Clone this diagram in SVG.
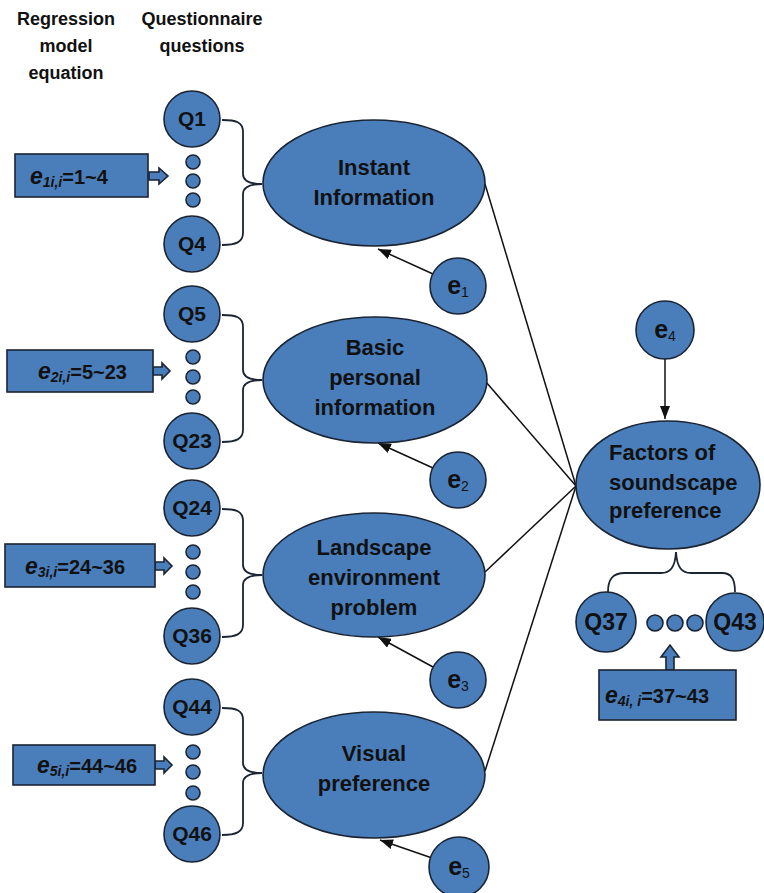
<svg xmlns="http://www.w3.org/2000/svg" width="764" height="893" viewBox="0 0 764 893">
  <defs>
    <marker id="head" markerUnits="userSpaceOnUse" markerWidth="13" markerHeight="10" refX="13" refY="5" orient="auto">
      <path d="M0,0 L13,5 L0,10 z" fill="#111"/>
    </marker>
    <style>
      text { font-family: "Liberation Sans", Arial, sans-serif; font-weight: bold; fill: #111; }
      .hdr { font-size: 18px; text-anchor: middle; }
      .node { fill: #4a7ebb; stroke: #1b2433; stroke-width: 1.6; }
      .lbl { font-size: 22px; text-anchor: middle; }
      .lbll { font-size: 22px; text-anchor: start; }
      .q { font-size: 21px; text-anchor: middle; }
      .qb { font-size: 23px; text-anchor: middle; }
      .el { font-size: 25px; text-anchor: middle; }
      .sub { font-size: 14px; font-weight: normal; }
      .eq { font-size: 20px; }
      .ei { font-size: 23px; font-style: italic; }
      .es { font-size: 14px; font-style: italic; }
      .wire { fill: none; stroke: #111; stroke-width: 1.5; }
      .brace { fill: none; stroke: #1b2433; stroke-width: 1.8; }
    </style>
  </defs>

  <rect width="764" height="893" fill="#ffffff"/>

  <!-- column headings -->
  <g id="headings">
    <text class="hdr" x="66" y="25">Regression</text>
    <text class="hdr" x="66" y="52">model</text>
    <text class="hdr" x="66" y="79">equation</text>
    <text class="hdr" x="202" y="25">Questionnaire</text>
    <text class="hdr" x="202" y="52">questions</text>
  </g>

  <!-- connectors -->
  <g id="connectors">
    <!-- braces joining question items to their factor -->
    <path class="brace" d="M222 120 C236 120 243 122 243 132 L243 174 C243 181 250 184 262 184 C250 184 243 187 243 194 L243 233 C243 242 236 245 222 245"/>
    <path class="brace" d="M222 315 C236 315 243 317 243 327 L243 370 C243 377 250 380 262 380 C250 380 243 383 243 390 L243 430 C243 439 236 442 222 442"/>
    <path class="brace" d="M222 509 C236 509 243 511 243 521 L243 565 C243 572 250 575 262 575 C250 575 243 578 243 585 L243 625 C243 634 236 637 222 637"/>
    <path class="brace" d="M222 708 C236 708 243 710 243 720 L243 763 C243 770 250 773 262 773 C250 773 243 776 243 783 L243 823 C243 832 236 835 222 835"/>
    <path class="brace" d="M608 592 C608 580 612 573 625 573 L661 573 C670 573 675 568 676 552 C677 568 682 573 691 573 L722 573 C732 573 735 580 735 592"/>

    <!-- factor paths to soundscape preference -->
    <line class="wire" x1="485" y1="184" x2="576" y2="486"/>
    <line class="wire" x1="486" y1="382" x2="576" y2="486"/>
    <line class="wire" x1="485" y1="572" x2="576" y2="486"/>
    <line class="wire" x1="485" y1="771" x2="576" y2="486"/>

    <!-- residual arrows -->
    <line class="wire" x1="433" y1="274" x2="378" y2="249" marker-end="url(#head)"/>
    <line class="wire" x1="433" y1="468" x2="378" y2="443" marker-end="url(#head)"/>
    <line class="wire" x1="433" y1="667" x2="378" y2="637" marker-end="url(#head)"/>
    <line class="wire" x1="432" y1="858" x2="380" y2="840" marker-end="url(#head)"/>
    <line class="wire" x1="665" y1="358" x2="665" y2="419" marker-end="url(#head)"/>

    <!-- block arrows from equation boxes -->
    <polygon class="node" points="149,172 159,172 159,168 168,176 159,184 159,180 149,180"/>
    <polygon class="node" points="153,367 162,367 162,363 170,371 162,379 162,375 153,375"/>
    <polygon class="node" points="155,562 164,562 164,558 172,566 164,574 164,570 155,570"/>
    <polygon class="node" points="155,761 164,761 164,757 172,765 164,773 164,769 155,769"/>
    <polygon class="node" points="666,670 666,657 661,657 670,645 679,657 674,657 674,670"/>
  </g>

  <!-- equation boxes -->
  <g id="eq1">
    <rect class="node" x="15" y="154" width="133" height="43"/>
    <text x="30" y="184"><tspan class="ei">e</tspan><tspan class="es" dy="3">1i,i</tspan><tspan class="eq" dy="-3">=1~4</tspan></text>
  </g>
  <g id="eq2">
    <rect class="node" x="7" y="350" width="146" height="42"/>
    <text x="38" y="379"><tspan class="ei">e</tspan><tspan class="es" dy="3">2i,i</tspan><tspan class="eq" dy="-3">=5~23</tspan></text>
  </g>
  <g id="eq3">
    <rect class="node" x="5" y="544" width="150" height="43"/>
    <text x="25" y="574"><tspan class="ei">e</tspan><tspan class="es" dy="3">3i,i</tspan><tspan class="eq" dy="-3">=24~36</tspan></text>
  </g>
  <g id="eq5">
    <rect class="node" x="13" y="745" width="142" height="40"/>
    <text x="37" y="773"><tspan class="ei">e</tspan><tspan class="es" dy="3">5i,i</tspan><tspan class="eq" dy="-3">=44~46</tspan></text>
  </g>
  <g id="eq4">
    <rect class="node" x="599" y="670" width="137" height="50"/>
    <text x="605" y="703"><tspan class="ei">e</tspan><tspan class="es" dy="3">4i, i</tspan><tspan class="eq" dy="-3">=37~43</tspan></text>
  </g>

  <!-- question items -->
  <g id="q1"><circle class="node" cx="192" cy="119" r="28"/><text class="q" x="192" y="126">Q1</text></g>
  <g id="dots1">
    <circle class="node" cx="193" cy="162" r="7"/><circle class="node" cx="193" cy="181" r="7"/><circle class="node" cx="193" cy="200" r="7"/>
  </g>
  <g id="q4"><circle class="node" cx="192" cy="244" r="28"/><text class="q" x="192" y="251">Q4</text></g>

  <g id="q5"><circle class="node" cx="192" cy="314" r="28"/><text class="q" x="192" y="321">Q5</text></g>
  <g id="dots2">
    <circle class="node" cx="193" cy="357" r="7"/><circle class="node" cx="193" cy="377" r="7"/><circle class="node" cx="193" cy="397" r="7"/>
  </g>
  <g id="q23"><circle class="node" cx="192" cy="441" r="28"/><text class="q" x="192" y="448">Q23</text></g>

  <g id="q24"><circle class="node" cx="192" cy="508" r="28"/><text class="q" x="192" y="515">Q24</text></g>
  <g id="dots3">
    <circle class="node" cx="193" cy="552" r="7"/><circle class="node" cx="193" cy="572" r="7"/><circle class="node" cx="193" cy="592" r="7"/>
  </g>
  <g id="q36"><circle class="node" cx="192" cy="636" r="28"/><text class="q" x="192" y="643">Q36</text></g>

  <g id="q44"><circle class="node" cx="192" cy="707" r="28"/><text class="q" x="192" y="714">Q44</text></g>
  <g id="dots4">
    <circle class="node" cx="193" cy="752" r="7"/><circle class="node" cx="193" cy="772" r="7"/><circle class="node" cx="193" cy="793" r="7"/>
  </g>
  <g id="q46"><circle class="node" cx="192" cy="834" r="28"/><text class="q" x="192" y="841">Q46</text></g>

  <g id="q37"><circle class="node" cx="606" cy="622" r="30"/><text class="qb" x="606" y="630">Q37</text></g>
  <g id="dots5">
    <circle class="node" cx="655" cy="623" r="8"/><circle class="node" cx="675" cy="623" r="8"/><circle class="node" cx="695" cy="623" r="8"/>
  </g>
  <g id="q43"><circle class="node" cx="735" cy="622" r="29"/><text class="qb" x="735" y="630">Q43</text></g>

  <!-- latent factors -->
  <g id="instant">
    <ellipse class="node" cx="374" cy="183" rx="111" ry="63"/>
    <text class="lbl" x="374" y="175">Instant</text>
    <text class="lbl" x="374" y="205">Information</text>
  </g>
  <g id="basic">
    <ellipse class="node" cx="375" cy="380" rx="112" ry="63"/>
    <text class="lbl" x="375" y="355">Basic</text>
    <text class="lbl" x="375" y="385">personal</text>
    <text class="lbl" x="375" y="415">information</text>
  </g>
  <g id="landscape">
    <ellipse class="node" cx="374" cy="575" rx="111" ry="62"/>
    <text class="lbl" x="374" y="555">Landscape</text>
    <text class="lbl" x="374" y="585">environment</text>
    <text class="lbl" x="374" y="615">problem</text>
  </g>
  <g id="visual">
    <ellipse class="node" cx="374" cy="775" rx="111" ry="63"/>
    <text class="lbl" x="374" y="761">Visual</text>
    <text class="lbl" x="374" y="791">preference</text>
  </g>
  <g id="soundscape">
    <ellipse class="node" cx="668" cy="485" rx="92" ry="64"/>
    <text class="lbll" x="609" y="460">Factors of</text>
    <text class="lbll" x="609" y="490">soundscape</text>
    <text class="lbll" x="609" y="518">preference</text>
  </g>

  <!-- error terms -->
  <g id="e1"><circle class="node" cx="458" cy="286" r="28"/><text class="el" x="458" y="294">e<tspan class="sub" dy="3">1</tspan></text></g>
  <g id="e2"><circle class="node" cx="458" cy="480" r="28"/><text class="el" x="458" y="488">e<tspan class="sub" dy="3">2</tspan></text></g>
  <g id="e3"><circle class="node" cx="458" cy="680" r="28"/><text class="el" x="458" y="688">e<tspan class="sub" dy="3">3</tspan></text></g>
  <g id="e4"><circle class="node" cx="665" cy="330" r="29"/><text class="el" x="665" y="338">e<tspan class="sub" dy="3">4</tspan></text></g>
  <g id="e5"><circle class="node" cx="459" cy="867" r="30"/><text class="el" x="459" y="875">e<tspan class="sub" dy="3">5</tspan></text></g>
</svg>
